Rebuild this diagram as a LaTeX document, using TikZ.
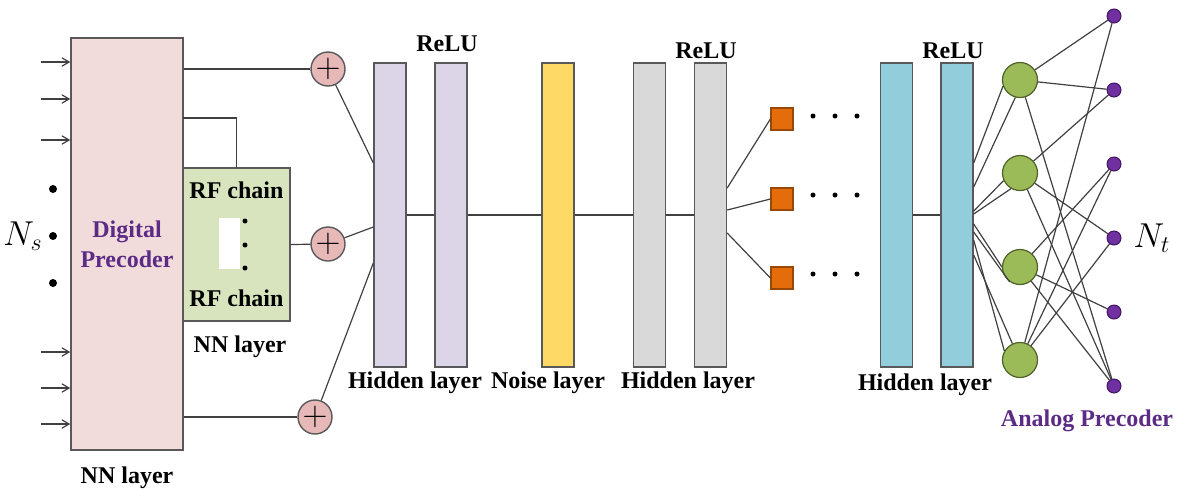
\documentclass[tikz,border=0pt]{standalone}
\usepackage{fontspec}
\setmainfont{Liberation Serif}
\usepackage{tikz}
\usetikzlibrary{arrows,%
                shapes,positioning}

\definecolor{dppink}{HTML}{F2DCDB}
\definecolor{rfgreen}{HTML}{D7E4BD}
\definecolor{addpink}{HTML}{E6B9B8}
\definecolor{lav}{HTML}{DCD5E8}
\definecolor{nyellow}{HTML}{FFD966}
\definecolor{lgray}{HTML}{D9D9D9}
\definecolor{lcyan}{HTML}{92CDDC}
\definecolor{sqfill}{HTML}{E46C0A}
\definecolor{sqedge}{HTML}{984807}
\definecolor{ngreen}{HTML}{9BBB59}
\definecolor{nedge}{HTML}{4F6228}
\definecolor{apurple}{HTML}{7030A0}
\definecolor{aedge}{HTML}{3F1560}
\definecolor{txtpurple}{HTML}{5B2B86}
\definecolor{bord}{HTML}{595959}
\definecolor{wiregray}{HTML}{404040}

\begin{document}
\begin{tikzpicture}[x=0.5pt,y=-0.5pt,>=angle 60,
  every node/.style={inner sep=0pt},
  lbl/.style={font=\bfseries\fontsize{12}{15}\selectfont},
  blk/.style={draw=bord,line width=0.7pt},
  lyr/.style={blk,minimum width=16pt,minimum height=152pt},
  adder/.style={blk,circle,fill=addpink,minimum size=17pt,font=\fontsize{16}{16}\selectfont},
  sq/.style={draw=sqedge,line width=0.6pt,fill=sqfill,minimum size=11pt},
  neuron/.style={draw=nedge,line width=0.6pt,circle,fill=ngreen,minimum size=17.5pt},
  ant/.style={draw=aedge,line width=0.5pt,circle,fill=apurple,minimum size=7pt},
  bigdot/.style={circle,fill=black,minimum size=4pt},
  smalldot/.style={circle,fill=black,minimum size=2.5pt},
  wire/.style={draw=wiregray,line width=0.6pt}]
\useasboundingbox (0,0) rectangle (1177,489);
\node[blk,fill=dppink,minimum width=56pt,minimum height=206pt] (dp) at (127,244) {};
\node[lbl,text=txtpurple,align=center] (dptxt) at (127,244) {Digital\\Precoder};
\node[lbl] (nn1) at (127,478) {NN layer};
\coordinate (in1) at (41,62);
\coordinate (in2) at (41,99);
\coordinate (in3) at (41,140);
\coordinate (in4) at (41,352);
\coordinate (in5) at (41,388);
\coordinate (in6) at (41,424);
\draw[wire,->] (in1) -- (in1 -| dp.west);
\draw[wire,->] (in2) -- (in2 -| dp.west);
\draw[wire,->] (in3) -- (in3 -| dp.west);
\draw[wire,->] (in4) -- (in4 -| dp.west);
\draw[wire,->] (in5) -- (in5 -| dp.west);
\draw[wire,->] (in6) -- (in6 -| dp.west);
\node[bigdot] (v1) at (53,189) {};
\node[bigdot] (v2) at (53,236) {};
\node[bigdot] (v3) at (53,283) {};
\node[font=\fontsize{17}{17}\selectfont] (ns) at (23,236) {$N_s$};
\node[blk,fill=rfgreen,minimum width=53.5pt,minimum height=76.5pt] (rf) at (236.5,244.5) {};
\node[lbl] (rf1) at (236.5,190) {RF chain};
\node[lbl] (rf2) at (236.5,298) {RF chain};
\node[fill=white,minimum width=10.5pt,minimum height=25.5pt] (gap) at (229.5,243.5) {};
\node[smalldot] (r1) at (245,221) {};
\node[smalldot] (r2) at (245,245) {};
\node[smalldot] (r3) at (245,268) {};
\node[lbl] (nn2) at (240,347) {NN layer};
\coordinate (dpo) at (183,118);
\draw[wire] (dpo) -| (rf.north);
\node[adder] (add1) at (328,69) {$+$};
\node[adder] (add2) at (328,244) {$+$};
\node[adder] (add3) at (315,417) {$+$};
\draw[wire] (add1) -- (add1 -| dp.east);
\draw[wire] (add2) -- (rf.east);
\draw[wire] (add3) -- (add3 -| dp.east);
\node[lyr,fill=lav] (h1) at (390,215) {};
\node[lyr,fill=lav] (h2) at (451,215) {};
\node[lyr,fill=nyellow] (nz) at (558,215) {};
\node[lyr,fill=lgray] (g1) at (649.5,215) {};
\node[lyr,fill=lgray] (g2) at (710.5,215) {};
\node[lyr,fill=lcyan] (c1) at (896.5,215) {};
\node[lyr,fill=lcyan] (c2) at (957,215) {};
\draw[wire] (add1) -- ([yshift=26pt]h1.west);
\draw[wire] (add2) -- ([yshift=-6pt]h1.west);
\draw[wire] (add3) -- ([yshift=-24pt]h1.west);
\draw[wire] (h1) -- (h2);
\draw[wire] (h2) -- (nz);
\draw[wire] (nz) -- (g1);
\draw[wire] (g1) -- (g2);
\draw[wire] (c1) -- (c2);
\node[lbl] (relu1) at (447,44) {ReLU};
\node[lbl] (relu2) at (706,51) {ReLU};
\node[lbl] (relu3) at (953,51) {ReLU};
\node[lbl] (hl1) at (415,383) {Hidden layer};
\node[lbl] (nl) at (548,383) {Noise layer};
\node[lbl] (hl2) at (688,383) {Hidden layer};
\node[lbl] (hl3) at (925,385) {Hidden layer};
\node[sq] (o1) at (782,119) {};
\node[sq] (o2) at (782,199) {};
\node[sq] (o3) at (782,278) {};
\draw[wire] ([yshift=13.5pt]g2.east) -- (o1.west);
\draw[wire] ([yshift=2.5pt]g2.east) -- (o2.west);
\draw[wire] ([yshift=-9pt]g2.east) -- (o3.west);
\node[smalldot] (p11) at (813,116) {};
\node[smalldot] (p12) at (835,116) {};
\node[smalldot] (p13) at (857,116) {};
\node[smalldot] (p21) at (813,195) {};
\node[smalldot] (p22) at (835,195) {};
\node[smalldot] (p23) at (857,195) {};
\node[smalldot] (p31) at (813,274) {};
\node[smalldot] (p32) at (835,274) {};
\node[smalldot] (p33) at (857,274) {};
\node[neuron] (a1) at (1020,80) {};
\node[neuron] (a2) at (1020,173) {};
\node[neuron] (a3) at (1020,267) {};
\node[neuron] (a4) at (1020,360) {};
\node[ant] (t1) at (1114,16) {};
\node[ant] (t2) at (1114,90) {};
\node[ant] (t3) at (1114,164) {};
\node[ant] (t4) at (1114,238) {};
\node[ant] (t5) at (1114,312) {};
\node[ant] (t6) at (1114,386) {};
\draw[wire] ([yshift=26pt]c2.east) -- (a1.200);
\draw[wire] ([yshift=14pt]c2.east) -- (a1.255);
\draw[wire] ([yshift=2pt]c2.east) -- (a2.205);
\draw[wire] ([yshift=0.5pt]c2.east) -- (a2.240);
\draw[wire] ([yshift=-4.5pt]c2.east) -- (a3.180);
\draw[wire] ([yshift=-8.5pt]c2.east) -- (a3.235);
\draw[wire] ([yshift=-12.5pt]c2.east) -- (a4.150);
\draw[wire] ([yshift=-20pt]c2.east) -- (a4.115);
\draw[wire] (a1) -- (t1);
\draw[wire] (a1) -- (t2);
\draw[wire] (a1) -- (t6);
\draw[wire] (a2) -- (t2);
\draw[wire] (a2) -- (t4);
\draw[wire] (a2) -- (t6);
\draw[wire] (a3) -- (t3);
\draw[wire] (a3) -- (t5);
\draw[wire] (a3) -- (t6);
\draw[wire] (a4) -- (t1);
\draw[wire] (a4) -- (t3);
\draw[wire] (a4) -- (t4);
\node[font=\fontsize{17}{17}\selectfont] (nt) at (1152,238) {$N_t$};
\node[lbl,text=txtpurple] (ap) at (1087,421) {Analog Precoder};
\end{tikzpicture}
\end{document}
